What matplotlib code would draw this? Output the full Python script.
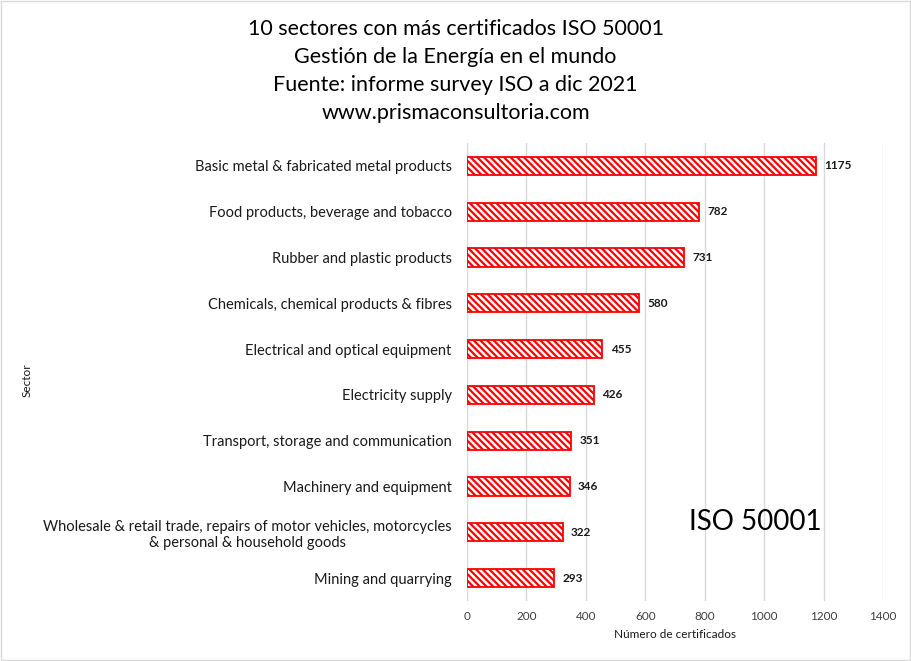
import matplotlib.pyplot as plt
import matplotlib as mpl
from matplotlib.transforms import offset_copy

plt.rcParams['font.family'] = ['Lato', 'DejaVu Sans']
mpl.rcParams['hatch.color'] = 'red'
mpl.rcParams['hatch.linewidth'] = 1.6

# datos (de abajo hacia arriba)
sectores = [
    'Mining and quarrying',
    'Wholesale & retail trade, repairs of motor vehicles, motorcycles\n& personal & household goods',
    'Machinery and equipment',
    'Transport, storage and communication',
    'Electricity supply',
    'Electrical and optical equipment',
    'Chemicals, chemical products & fibres',
    'Rubber and plastic products',
    'Food products, beverage and tobacco',
    'Basic metal & fabricated metal products',
]
certificados = [293, 322, 346, 351, 426, 455, 580, 731, 782, 1175]
xticks = [0, 200, 400, 600, 800, 1000, 1200, 1400]

titulo = ('10 sectores con más certificados ISO 50001\n'
          'Gestión de la Energía en el mundo\n'
          'Fuente: informe survey ISO a dic 2021\n'
          'www.prismaconsultoria.com')

fig = plt.figure(figsize=(9.11, 6.61), dpi=100)
ax = fig.add_axes([467 / 911, 1 - 601 / 661, 416 / 911, 458 / 661])

y = range(len(sectores))
ax.barh(y, certificados, height=0.4, color='white', edgecolor='red',
        linewidth=1.3, hatch='\\\\\\\\\\', zorder=3)

# etiquetas de valor a unos pocos px del final de la barra
trans = offset_copy(ax.transData, fig=fig, x=6, y=0, units='points')
for i, v in enumerate(certificados):
    ax.text(v, i, str(v), va='center', ha='left', fontsize=8.5,
            fontweight='bold', color='#1a1a1a', transform=trans)

ax.set_xlim(0, 1400)
ax.set_ylim(-0.5, len(sectores) - 0.5)
ax.set_xticks(xticks)
ax.set_xticklabels([str(t) for t in xticks], fontsize=8.5, color='#404040')
ax.set_yticks(list(y))
ax.set_yticklabels(sectores, fontsize=10.5, color='#1a1a1a')
for t in ax.get_yticklabels():
    t.set_multialignment('center')
ax.tick_params(axis='x', length=0, pad=7)
ax.tick_params(axis='y', length=0, pad=11)
ax.grid(axis='x', color='#d9d9d9', linewidth=1, zorder=0)
for s in ax.spines.values():
    s.set_visible(False)

ax.set_xlabel('Número de certificados', fontsize=8.5, color='#1a1a1a', labelpad=5)
fig.text(27 / 911, 1 - 380 / 661, 'Sector', rotation=90, fontsize=8.5,
         ha='center', va='center', color='#1a1a1a')

fig.text(0.5, 1 - 71 / 661, titulo, ha='center', va='center', fontsize=15.5,
         linespacing=1.48, color='black')
fig.text(755 / 911, 1 - 522 / 661, 'ISO 50001', ha='center', va='center',
         fontsize=20, color='black')

# borde del gráfico
fig.patches.append(mpl.patches.Rectangle((0.001, 0.001), 0.998, 0.998,
                                         transform=fig.transFigure, fill=False,
                                         edgecolor='#d9d9d9', linewidth=1))

fig.savefig('out.png', dpi=100)
